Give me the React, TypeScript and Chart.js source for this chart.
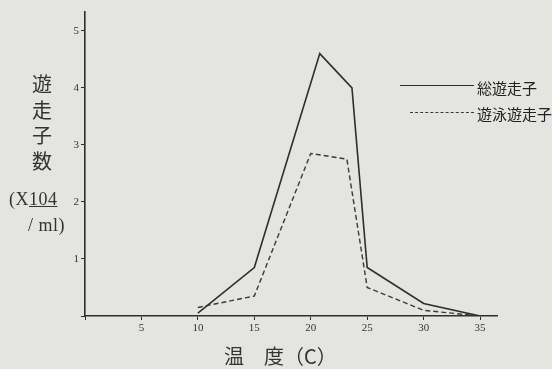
import React, { useEffect, useRef } from "react";
import { Chart, registerables } from "chart.js";

Chart.register(...registerables);

const totalTemps = [10, 15, 20.8, 23.65, 25, 30, 35];
const totalValues = [0.05, 0.85, 4.6, 4.0, 0.85, 0.22, 0];
const swimTemps = [10, 15, 20, 23.2, 25, 30, 35];
const swimValues = [0.15, 0.35, 2.85, 2.75, 0.5, 0.1, 0];
const totalLabel = "総遊走子";
const swimLabel = "遊泳遊走子";
const yTitleChars = ["遊", "走", "子", "数"];
const xTitle = "温　度（C）";

const ink = "#2e2e2e";
const bg = "#e4e4e0";

export default function App() {
  const ref = useRef<HTMLCanvasElement | null>(null);
  useEffect(() => {
    if (!ref.current) return;
    const chart = new Chart(ref.current, {
      type: "line",
      data: {
        datasets: [
          {
            label: totalLabel,
            data: totalTemps.map((t, i) => ({ x: t, y: totalValues[i] })),
            borderColor: ink,
            borderWidth: 1.6,
            pointRadius: 0,
            tension: 0,
          },
          {
            label: swimLabel,
            data: swimTemps.map((t, i) => ({ x: t, y: swimValues[i] })),
            borderColor: "#3a3a3a",
            borderWidth: 1.4,
            borderDash: [5, 3],
            pointRadius: 0,
            tension: 0,
          },
        ],
      },
      options: {
        animation: false,
        responsive: false,
        maintainAspectRatio: false,
        layout: { padding: { left: 0, right: 55, top: 12, bottom: 0 } },
        plugins: { legend: { display: false }, tooltip: { enabled: false } },
        scales: {
          x: {
            type: "linear",
            min: 0,
            max: 36.5,
            ticks: {
              stepSize: 5,
              includeBounds: false,
              color: "#333",
              font: { family: "Liberation Serif", size: 11 },
              padding: 2,
              maxRotation: 0,
              callback: (v: any) => (v === 0 ? "" : String(v)),
            },
            grid: { drawOnChartArea: false, tickLength: 4, color: ink },
            border: { display: true, color: ink, width: 1.6 },
            afterFit: (s: any) => {
              s.height = 53;
            },
          },
          y: {
            type: "linear",
            min: 0,
            max: 5.33,
            ticks: {
              stepSize: 1,
              includeBounds: false,
              color: "#333",
              font: { family: "Liberation Serif", size: 11 },
              padding: 2,
              callback: (v: any) => (v === 0 ? "" : String(v)),
            },
            grid: { drawOnChartArea: false, tickLength: 4, color: ink },
            border: { display: true, color: ink, width: 1.6 },
            afterFit: (s: any) => {
              s.width = 85;
            },
          },
        },
      },
    });
    return () => chart.destroy();
  }, []);

  const jp = '"Noto Sans CJK JP", sans-serif';
  return (
    <div style={{ position: "fixed", left: 0, top: 0, width: 552, height: 369, background: bg, overflow: "hidden" }}>
      <canvas ref={ref} width={552} height={369} style={{ position: "absolute", left: 0, top: 0 }} />
      {yTitleChars.map((c, i) => (
        <div key={c} style={{ position: "absolute", left: 32, top: 71 + i * 25.5, fontFamily: jp, fontSize: 20, lineHeight: "25px", color: "#333" }}>
          {c}
        </div>
      ))}
      <div style={{ position: "absolute", left: 9, top: 189, fontFamily: '"Liberation Serif", serif', fontSize: 18, color: "#333", whiteSpace: "nowrap", letterSpacing: 0.5 }}>
        (X<span style={{ textDecoration: "underline" }}>104</span>
      </div>
      <div style={{ position: "absolute", left: 28, top: 215, fontFamily: '"Liberation Serif", serif', fontSize: 18, color: "#333", whiteSpace: "pre", letterSpacing: 0.5 }}>
        / ml)
      </div>
      <div style={{ position: "absolute", left: 224, top: 345, fontFamily: jp, fontSize: 20, lineHeight: "22px", color: "#333", whiteSpace: "pre" }}>
        {xTitle}
      </div>
      <div style={{ position: "absolute", left: 400, top: 85, width: 74, borderTop: `1.6px solid ${ink}` }} />
      <div style={{ position: "absolute", left: 477, top: 78, fontFamily: jp, fontSize: 15, lineHeight: "20px", color: "#222", whiteSpace: "nowrap" }}>{totalLabel}</div>
      <div style={{ position: "absolute", left: 410, top: 112, width: 64, borderTop: "1.4px dashed #3a3a3a" }} />
      <div style={{ position: "absolute", left: 477, top: 104, fontFamily: jp, fontSize: 15, lineHeight: "20px", color: "#222", whiteSpace: "nowrap" }}>{swimLabel}</div>
    </div>
  );
}
